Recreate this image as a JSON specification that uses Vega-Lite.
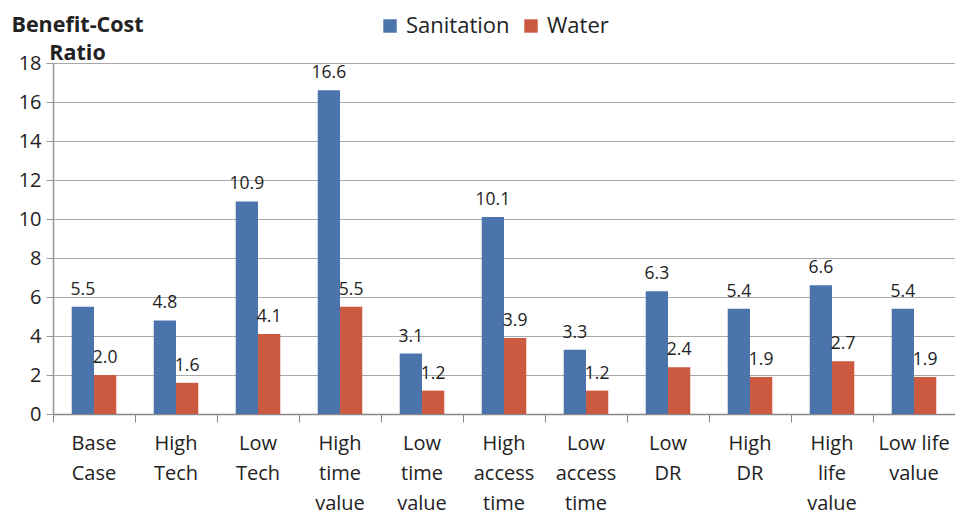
{
  "$schema": "https://vega.github.io/schema/vega-lite/v6.json",
  "width": 902,
  "height": 351,
  "autosize": "none",
  "padding": {"left": 53, "top": 63, "right": 0, "bottom": 103},
  "background": "white",
  "config": {
    "font": "Open Sans",
    "view": {"stroke": null}
  },
  "data": {
    "values": [
      {"scenario": "Base Case", "series": "Sanitation", "ratio": 5.5},
      {"scenario": "Base Case", "series": "Water", "ratio": 2.0},
      {"scenario": "High Tech", "series": "Sanitation", "ratio": 4.8},
      {"scenario": "High Tech", "series": "Water", "ratio": 1.6},
      {"scenario": "Low Tech", "series": "Sanitation", "ratio": 10.9},
      {"scenario": "Low Tech", "series": "Water", "ratio": 4.1},
      {"scenario": "High time value", "series": "Sanitation", "ratio": 16.6},
      {"scenario": "High time value", "series": "Water", "ratio": 5.5},
      {"scenario": "Low time value", "series": "Sanitation", "ratio": 3.1},
      {"scenario": "Low time value", "series": "Water", "ratio": 1.2},
      {"scenario": "High access time", "series": "Sanitation", "ratio": 10.1},
      {"scenario": "High access time", "series": "Water", "ratio": 3.9},
      {"scenario": "Low access time", "series": "Sanitation", "ratio": 3.3},
      {"scenario": "Low access time", "series": "Water", "ratio": 1.2},
      {"scenario": "Low DR", "series": "Sanitation", "ratio": 6.3},
      {"scenario": "Low DR", "series": "Water", "ratio": 2.4},
      {"scenario": "High DR", "series": "Sanitation", "ratio": 5.4},
      {"scenario": "High DR", "series": "Water", "ratio": 1.9},
      {"scenario": "High life value", "series": "Sanitation", "ratio": 6.6},
      {"scenario": "High life value", "series": "Water", "ratio": 2.7},
      {"scenario": "Low life value", "series": "Sanitation", "ratio": 5.4},
      {"scenario": "Low life value", "series": "Water", "ratio": 1.9}
    ]
  },
  "encoding": {
    "x": {
      "field": "scenario",
      "type": "nominal",
      "sort": null,
      "scale": {"paddingInner": 0, "paddingOuter": 0},
      "axis": {
        "title": null,
        "bandPosition": 0,
        "labelAngle": 0,
        "labelFontSize": 20,
        "labelColor": "#222222",
        "labelLineHeight": 30,
        "labelPadding": 11,
        "labelExpr": "datum.value == 'Low life value' ? ['Low life', 'value'] : split(datum.value, ' ')",
        "tickSize": 8,
        "tickColor": "#888888",
        "domainColor": "#888888",
        "domainWidth": 1.5,
        "grid": false
      }
    },
    "xOffset": {
      "field": "series",
      "sort": ["Sanitation", "Water"],
      "scale": {"paddingInner": 0, "paddingOuter": 0.84}
    },
    "y": {
      "field": "ratio",
      "type": "quantitative",
      "scale": {"domain": [0, 18], "nice": false},
      "axis": {
        "values": [0, 2, 4, 6, 8, 10, 12, 14, 16, 18],
        "title": ["Benefit-Cost", "Ratio"],
        "titleAngle": 0,
        "titleAlign": "center",
        "titleBaseline": "alphabetic",
        "titleX": 24,
        "titleY": -32,
        "titleFontSize": 21.5,
        "titleFontWeight": "bold",
        "titleColor": "#222222",
        "titleLineHeight": 28,
        "labelFontSize": 20,
        "labelColor": "#222222",
        "labelPadding": 5,
        "tickSize": 7,
        "tickColor": "#999999",
        "domainColor": "#999999",
        "domainWidth": 1.5,
        "grid": true,
        "gridColor": "#a8a8a8",
        "gridWidth": 1
      }
    }
  },
  "layer": [
    {
      "mark": {"type": "bar"},
      "encoding": {
        "color": {
          "field": "series",
          "type": "nominal",
          "scale": {"domain": ["Sanitation", "Water"], "range": ["#4a74ab", "#cc5a40"]},
          "legend": {
            "title": null,
            "orient": "none",
            "direction": "horizontal",
            "legendX": 326,
            "legendY": -48,
            "symbolType": "square",
            "symbolSize": 180,
            "symbolStrokeWidth": 0,
            "labelFontSize": 22,
            "labelColor": "#222222",
            "labelOffset": 5,
            "columnSpacing": 22
          }
        }
      }
    },
    {
      "mark": {"type": "text", "baseline": "bottom", "dy": -8, "fontSize": 17.5, "color": "#222222"},
      "encoding": {
        "text": {"field": "ratio", "type": "quantitative", "format": ".1f"}
      }
    }
  ]
}
